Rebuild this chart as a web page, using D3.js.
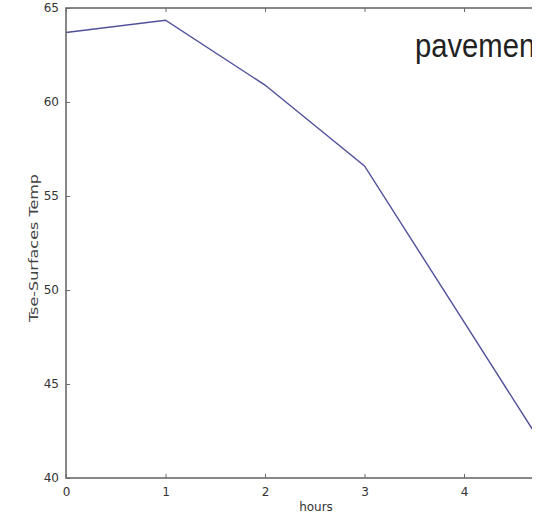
<!DOCTYPE html>
<html>
<head>
<meta charset="utf-8">
<script src="https://cdn.jsdelivr.net/npm/d3@7"></script>
<style>
  html, body { margin: 0; padding: 0; background: #fff; }
  svg { display: block; }
</style>
</head>
<body>
<svg id="chart" width="544" height="526"></svg>
<script>
// Surface temperature over time
const hours = [0, 1, 2, 3, 4, 5];
const temps = [63.7, 64.35, 60.9, 56.6, 48.3, 40.0];
const xTicks = [0, 1, 2, 3, 4];
const yTicks = [40, 45, 50, 55, 60, 65];
const titleText = "pavement";
const xLabel = "hours";
const yLabel = "Tse-Surfaces Temp";

const svg = d3.select("#chart");
const W = 544, H = 526;
const visibleRight = 532;

const x = d3.scaleLinear().domain([0, 5]).range([66, 563.5]);
const y = d3.scaleLinear().domain([40, 65]).range([478, 8]);

svg.append("defs").append("clipPath").attr("id", "view")
  .append("rect").attr("x", 0).attr("y", 0).attr("width", visibleRight).attr("height", H);

const g = svg.append("g").attr("clip-path", "url(#view)");

const axisColor = "#6a6a6a";
const font = "DejaVu Sans, sans-serif";

// Data line
const line = d3.line().x((d, i) => x(hours[i])).y(d => y(d));
g.append("path")
  .datum(temps)
  .attr("d", line)
  .attr("fill", "none")
  .attr("stroke", "#50509a")
  .attr("stroke-width", 1.4);

// Frame
const [x0, x1] = x.range();
const [yb, yt] = y.range();
g.append("rect")
  .attr("x", x0).attr("y", yt)
  .attr("width", x1 - x0).attr("height", yb - yt)
  .attr("fill", "none")
  .attr("stroke", axisColor)
  .attr("stroke-width", 1.6);

// Axes with inward ticks
const bottomAxis = d3.axisBottom(x).tickValues(xTicks).tickSize(-4).tickPadding(9).tickFormat(d3.format("d"));
const topAxis = d3.axisTop(x).tickValues(xTicks).tickSize(-4).tickFormat("");
const leftAxis = d3.axisLeft(y).tickValues(yTicks).tickSize(-4).tickPadding(7).tickFormat(d3.format("d"));

function styleAxis(sel) {
  sel.select(".domain").remove();
  sel.selectAll(".tick line").attr("stroke", axisColor).attr("stroke-width", 1);
  sel.selectAll(".tick text")
    .attr("fill", "#333")
    .attr("font-family", font)
    .attr("font-size", 12);
}

g.append("g").attr("transform", `translate(0,${yb})`).call(bottomAxis).call(styleAxis);
g.append("g").attr("transform", `translate(0,${yt})`).call(topAxis).call(styleAxis);
g.append("g").attr("transform", `translate(${x0},0)`).call(leftAxis).call(styleAxis);

// Axis titles
g.append("text")
  .attr("x", 316).attr("y", 511)
  .attr("text-anchor", "middle")
  .attr("font-family", font).attr("font-size", 12)
  .attr("fill", "#333")
  .text(xLabel);

g.append("text")
  .attr("transform", `translate(38,248) rotate(-90)`)
  .attr("text-anchor", "middle")
  .attr("font-family", font).attr("font-size", 12)
  .attr("textLength", 148)
  .attr("lengthAdjust", "spacingAndGlyphs")
  .attr("fill", "#444")
  .text(yLabel);

// Title, running off the right edge
g.append("text")
  .attr("transform", "translate(415,57) scale(0.86,1)")
  .attr("font-family", "Liberation Sans, Arial, sans-serif")
  .attr("font-size", 34)
  .attr("fill", "#222")
  .text(titleText);
</script>
</body>
</html>
